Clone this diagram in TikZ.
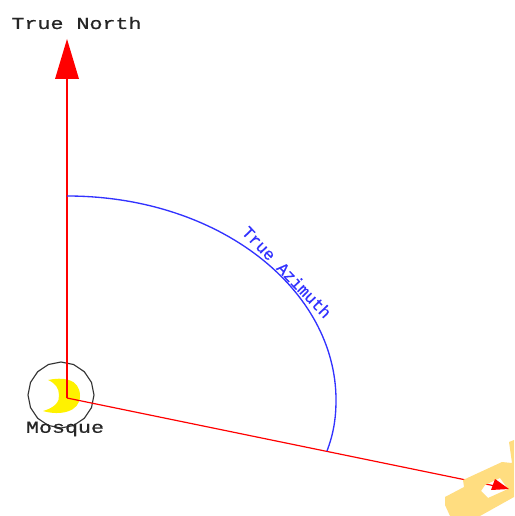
\documentclass[tikz,border=0pt]{standalone}
\usepackage{fontspec}
\setmainfont[RawFeature={embolden=0.5}]{Liberation Mono}
\definecolor{azblue}{RGB}{50,50,255}
\definecolor{sand}{RGB}{255,221,128}
\tikzset{
  redline/.style={draw=red,line width=0.9pt},
  redhead/.style={fill=red,draw=none},
  label/.style={inner sep=0pt,font=\fontsize{12.5}{14}\selectfont,text=black!85,xscale=1.3},
  azlabel/.style={inner sep=0pt,font=\fontsize{12.5}{14}\selectfont,text=azblue,rotate=-46}
}
\begin{document}
\begin{tikzpicture}[x=0.75pt,y=-0.75pt]
\useasboundingbox (0,0) rectangle (514,516);
\fill[white] (0,0) rectangle (514,516);
\coordinate (mosque) at (67,398);
\coordinate (northbase) at (67,78);
\coordinate (target) at (505,488);
% mosque symbol
\draw[black!80,line width=0.85pt] (94,395) -- (91.5,382.4) -- (84.3,371.7) -- (73.6,364.5) -- (61,362) -- (48.4,364.5) -- (37.7,371.7) -- (30.5,382.4) -- (28,395) -- (30.5,407.6) -- (37.7,418.3) -- (48.4,425.5) -- (61,428) -- (73.6,425.5) -- (84.3,418.3) -- (91.5,407.6) -- cycle;
\fill[yellow] (48,380) .. controls (62,377) and (80,378) .. (80,396) .. controls (80,412) and (60,416) .. (43,411) .. controls (54,408) and (60,402) .. (59,395) .. controls (59,388) and (55,383) .. (48,380) -- cycle;
% red lines
\draw[redline] (mosque) -- (northbase);
\draw[redline] (mosque) -- (target);
% sand shape with a hole
\fill[sand,even odd rule] (445,497) -- (464,487) -- (463,480) -- (502,462) -- (512,463) -- (509,442) -- (514,440) -- (514,497) -- (480,516) -- (450,516) -- (445,505) -- cycle
  (481,491) -- (488,498) -- (508,489) -- (500,478) -- (485,485) -- cycle;
% arrow heads
\fill[redhead] (67,39) -- (79,79) -- (55,79) -- cycle;
\fill[redhead] (495,479) -- (509,489) -- (491,490) -- cycle;
% arc
\draw[azblue,line width=1pt] (67,196) .. controls (220,196) and (336,290) .. (336,400) .. controls (336,420) and (333,435) .. (327,451);
% labels
\node[label] (northlabel) at (76.5,23) {True North};
\node[label] (mosquelabel) at (65,429) {Mosque};
\node[azlabel] (azlabel) at (287,272) {True Azimuth};
\end{tikzpicture}
\end{document}
